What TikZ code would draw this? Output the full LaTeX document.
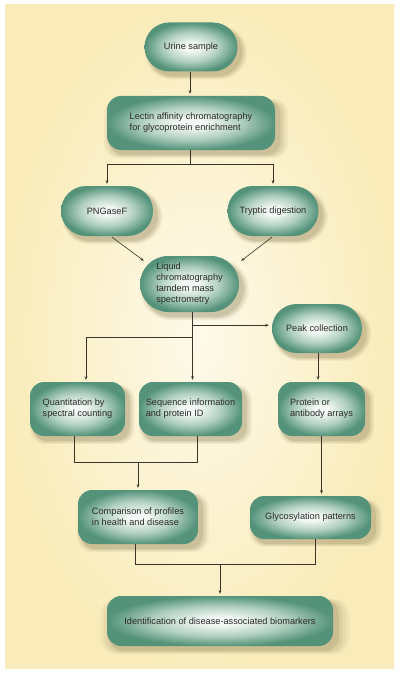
\documentclass[tikz,border=0pt]{standalone}
\usepackage{fontspec}
\setmainfont{Liberation Sans}
\usetikzlibrary{arrows.meta,shadows,calc}
\definecolor{gdark}{HTML}{54937A}
\definecolor{gmid}{HTML}{AFCFBE}
\definecolor{glight}{HTML}{F4F9F5}
\definecolor{panelin}{HTML}{FEFAEA}
\definecolor{panelout}{HTML}{F9ECBA}
\definecolor{shadowc}{HTML}{85784F}
\definecolor{linec}{HTML}{3A3528}
\definecolor{textc}{HTML}{2A2A2A}
\pgfdeclareradialshading{greenball}{\pgfpoint{0bp}{0bp}}{color(0bp)=(glight); color(4bp)=(glight); color(15bp)=(gmid); color(25bp)=(gdark); color(50bp)=(gdark)}
\tikzset{
  box/.style={shade, shading=greenball, draw=none,
    font=\fontsize{9.2}{11}\selectfont, text=textc, align=left, inner sep=0pt,
    general shadow={shadow xshift=4.5pt, shadow yshift=-5pt, shadow scale=1.10, fill=shadowc, opacity=0.07},
    general shadow={shadow xshift=4.5pt, shadow yshift=-5pt, shadow scale=1.07, fill=shadowc, opacity=0.09},
    general shadow={shadow xshift=4.5pt, shadow yshift=-5pt, shadow scale=1.04, fill=shadowc, opacity=0.12},
    general shadow={shadow xshift=4pt, shadow yshift=-4.5pt, shadow scale=1.015, fill=shadowc, opacity=0.18}},
  stad/.style={box, rounded corners=#1},
  rbox/.style={box, rounded corners=14pt},
  conn/.style={draw=linec, line width=0.6pt},
  arr/.style={conn, -{Stealth[length=3.6pt,width=2.8pt]}, shorten >=2pt},
}
\begin{document}
\begin{tikzpicture}[x=1pt,y=-1pt]
\useasboundingbox[fill=white] (0,0) rectangle (400,674);
\shade[inner color=panelin, outer color=panelout] (5,5) rectangle (394,668);

\node[stad=24.5pt, minimum width=93pt, minimum height=49pt] (urine) at (191,47) {Urine sample};
\node[rbox, minimum width=168pt, minimum height=54pt] (lectin) at (191,123) {Lectin affinity chromatography\\for glycoprotein enrichment};
\node[stad=25pt, minimum width=92pt, minimum height=50pt] (png) at (107,211) {PNGaseF};
\node[stad=25pt, minimum width=91pt, minimum height=50pt] (tryp) at (273,211) {Tryptic digestion};
\node[stad=28pt, minimum width=99pt, minimum height=56pt] (lc) at (189.5,284) {Liquid\\chromatography\\tamdem mass\\spectrometry};
\node[stad=24.5pt, minimum width=90pt, minimum height=49pt] (peak) at (317,328.5) {Peak collection};
\node[rbox, minimum width=95pt, minimum height=54pt] (quant) at (77.5,409) {Quantitation by\\spectral counting};
\node[rbox, minimum width=103pt, minimum height=54pt] (seq) at (190.5,409) {Sequence information\\and protein ID};
\node[rbox, minimum width=87pt, minimum height=54pt] (prot) at (321.5,409) {Protein or\\antibody arrays};
\node[rbox, minimum width=120pt, minimum height=54pt] (comp) at (138,517) {Comparison of profiles\\in health and disease};
\node[rbox, minimum width=121pt, minimum height=43pt] (glyco) at (310.5,517.5) {Glycosylation patterns};
\node[rbox, minimum width=226pt, minimum height=50pt] (ident) at (220,621) {Identification of disease-associated biomarkers};

% top
\draw[arr] ($(urine.south)+(-1,0)$) -- ($(lectin.north)+(-1,0)$);
\draw[conn] ($(lectin.south)+(-1,0)$) -- ++(0,14) coordinate (j1);
\draw[arr] (j1) -| (png.north);
\draw[arr] (j1) -| (tryp.north);
\draw[arr, shorten >=0pt] ($(png.south)+(5,1)$) -- ($(lc.north west)+(4,5)$);
\draw[arr, shorten >=0pt] ($(tryp.south)+(-1,1)$) -- ($(lc.north east)+(2,5)$);

% LC outputs
\coordinate (lcb) at ($(lc.south)+(3,0)$);
\draw[arr] (lcb) -- (lcb |- seq.north);
\coordinate (jr) at ($(lcb)+(0,13)$);
\draw[arr, shorten >=3pt] (jr) -- (jr -| peak.west);
\coordinate (jl) at ($(lcb)+(0,25)$);
\coordinate (qt) at ($(quant.north)+(8.5,0)$);
\draw[arr] (jl) -| (qt);
\draw[arr] ($(peak.south)+(1,0)$) -- ($(peak.south |- prot.north)+(1,0)$);

% merges
\coordinate (qb) at ($(quant.south)+(-3.5,0)$);
\coordinate (sb) at ($(seq.south)+(6.5,0)$);
\draw[conn] (qb) -- ++(0,26) coordinate (j2) -| (sb);
\draw[arr] (comp.north |- j2) -- (comp.north);
\draw[arr] (prot.south) -- (prot.south |- glyco.north);
\coordinate (cb) at ($(comp.south)+(-3,0)$);
\coordinate (gb) at ($(glyco.south)+(4.5,0)$);
\draw[conn] (cb) -- ++(0,20) coordinate (j3) -| (gb);
\draw[arr] (ident.north |- j3) -- (ident.north);
\end{tikzpicture}
\end{document}
